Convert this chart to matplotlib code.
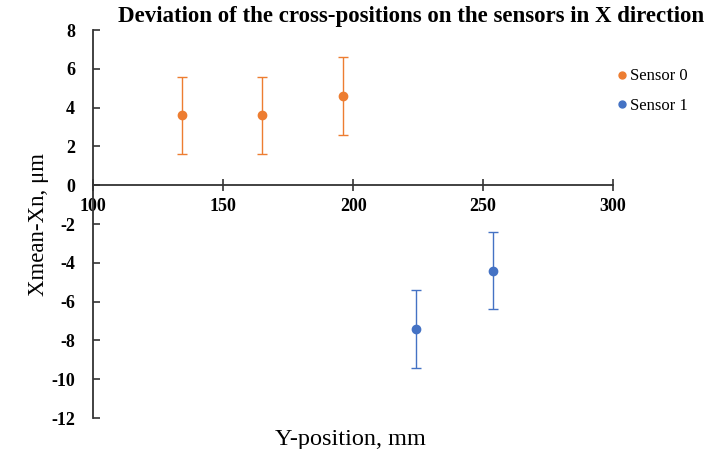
import matplotlib
matplotlib.use('Agg')
import matplotlib.pyplot as plt
from matplotlib.lines import Line2D
import numpy as np

plt.rcParams['font.family'] = ['Liberation Serif', 'DejaVu Serif']
plt.rcParams['axes.unicode_minus'] = False

# data
x0 = [134, 165, 196]
y0 = [3.6, 3.6, 4.6]
err0 = [2, 2, 2]
x1 = [224, 254]
y1 = [-7.4, -4.4]
err1 = [2, 2]

orange = '#ED7D31'
blue = '#4472C4'

fig = plt.figure(figsize=(7.12, 4.49), dpi=100)
ax = fig.add_axes([0.131, 0.069, 0.73, 0.864])

ax.errorbar(x0, y0, yerr=err0, fmt='o', color=orange, ms=6, elinewidth=1.0,
            capsize=3.5, capthick=1.0)
ax.errorbar(x1, y1, yerr=err1, fmt='o', color=blue, ms=6, elinewidth=1.0,
            capsize=3.5, capthick=1.0)

ax.set_xlim(100, 300)
ax.set_ylim(-12, 8)
ax.set_xticks([100, 150, 200, 250, 300])
ax.set_yticks(np.arange(-12, 9, 2))

ax.spines['top'].set_visible(False)
ax.spines['right'].set_visible(False)
ax.spines['bottom'].set_position(('data', 0))
for s in ['left', 'bottom']:
    ax.spines[s].set_linewidth(1.3)
    ax.spines[s].set_color('#333333')

ax.tick_params(axis='x', direction='inout', length=8, width=1.2, color='#333333', pad=5)
ax.tick_params(axis='y', direction='in', length=5, width=1.2, color='#333333', pad=13)
for lbl in ax.get_xticklabels() + ax.get_yticklabels():
    lbl.set_fontweight('bold')
    lbl.set_fontsize(13)

ax.set_title('Deviation of the cross-positions on the sensors in X direction',
             fontsize=16.5, fontweight='bold', x=0.612, y=1.0)
ax.set_ylabel('Xmean-Xn, μm', fontsize=16.5, labelpad=2)
fig.text(0.492, 0.01, 'Y-position, mm', fontsize=17.5, ha='center')

handles = [Line2D([], [], ls='none', marker='o', color=orange, ms=5),
           Line2D([], [], ls='none', marker='o', color=blue, ms=5)]
ax.legend(handles, ['Sensor 0', 'Sensor 1'], loc='upper left',
          bbox_to_anchor=(0.972, 0.94), frameon=False, fontsize=12,
          handletextpad=0.0, labelspacing=0.8, handlelength=1.0)

plt.savefig('out.png', dpi=100)
